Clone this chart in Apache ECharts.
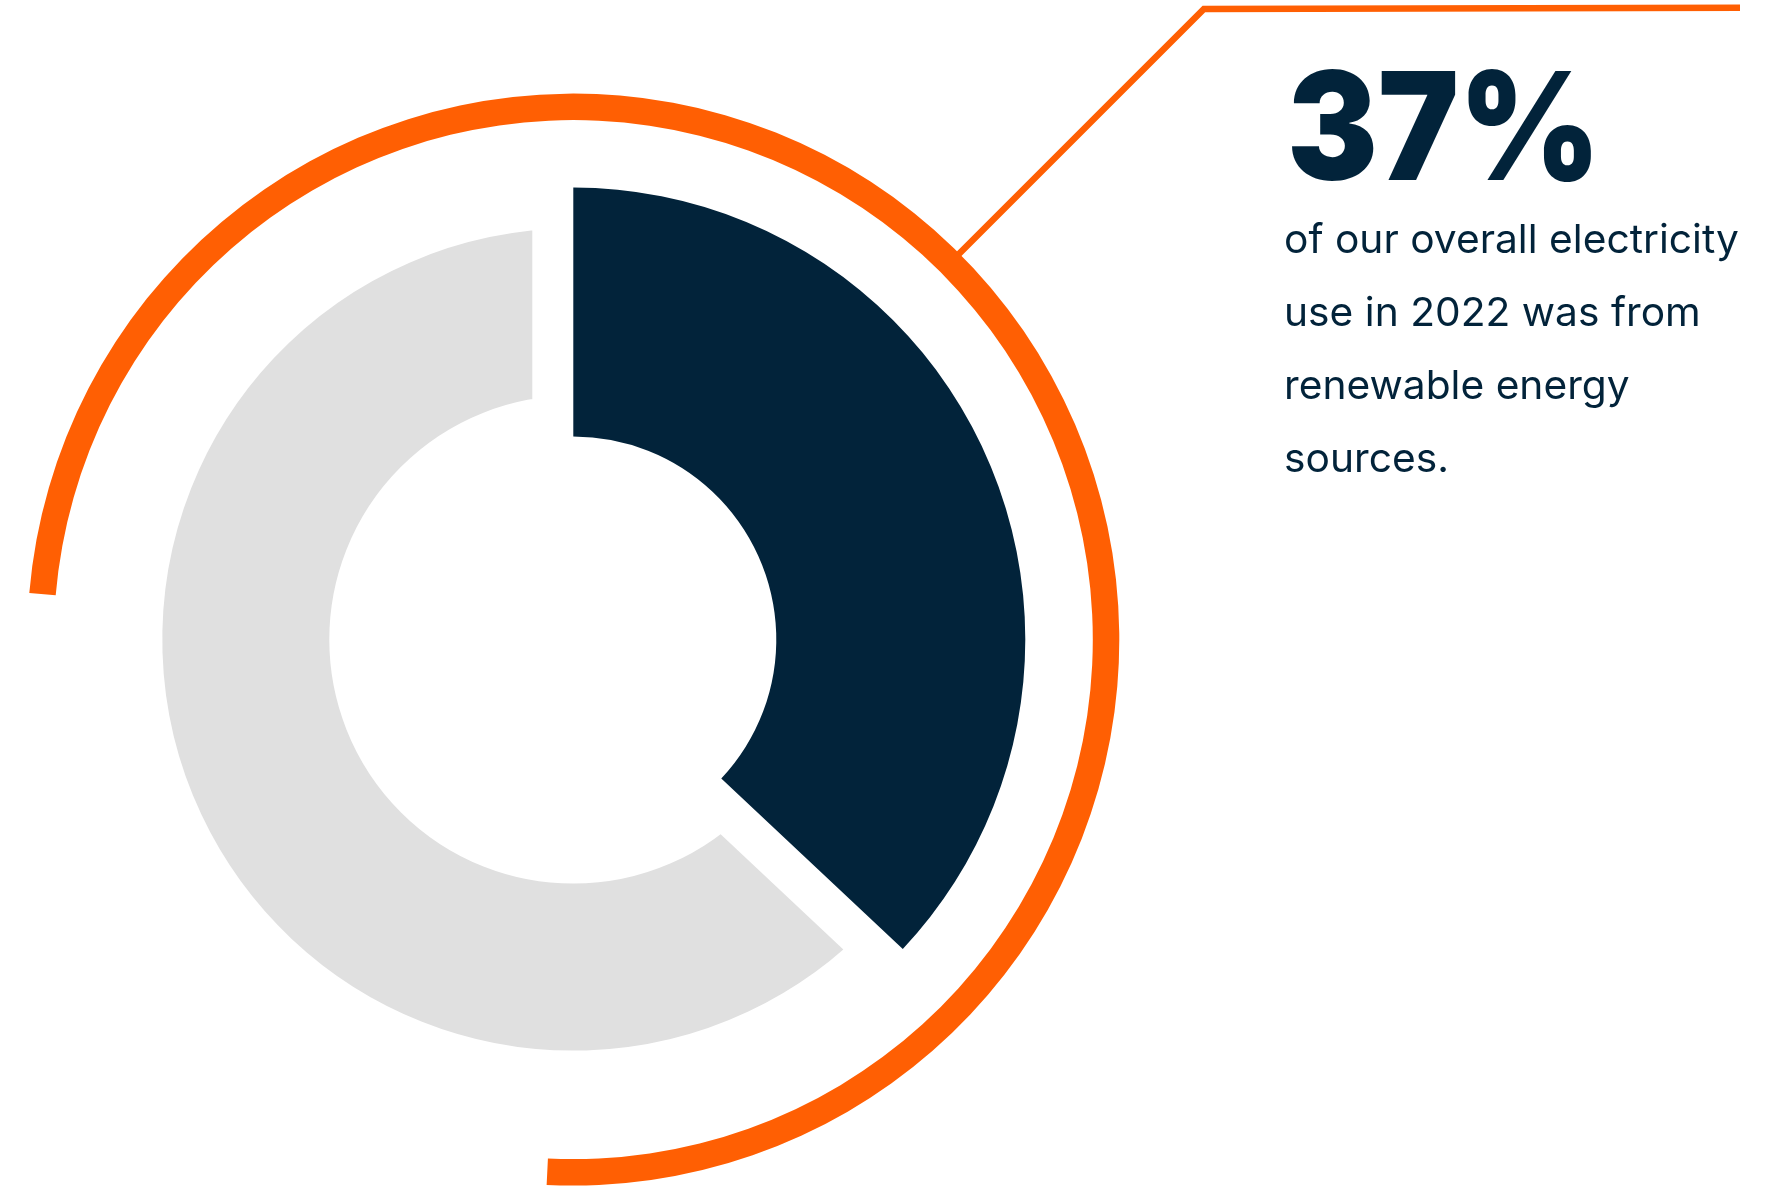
<!DOCTYPE html>
<html>
<head>
<meta charset="utf-8">
<script src="https://cdn.jsdelivr.net/npm/echarts@6/dist/echarts.min.js"></script>
<style>
html,body{margin:0;padding:0;background:#ffffff;}
#chart{width:1766px;height:1196px;}
</style>
</head>
<body>
<div id="chart"></div>
<script>
// ---- data ----
const categories = ['Renewable energy', 'Other sources'];
const shareValues = [37, 63];
const headline = '37%';
const bodyLines = ['of our overall electricity', 'use in 2022 was from', 'renewable energy', 'sources.'];
// decorative orange ring: sweep (degrees) and remaining gap
const ringValues = [267.9, 92.1];

// ---- style / layout ----
const NAVY = '#02233A';
const GREY = '#E0E0E0';
const ORANGE = '#FF5F03';
const CX = 573.3, CY = 639.6;
const R_IN = 203, R_OUT = 452;
const GAP = 41;
const RING_IN = 519.5, RING_OUT = 546;
const RING_START = 175.1;

const chart = echarts.init(document.getElementById('chart'), null, {renderer: 'canvas'});

const commonPie = {
  type: 'pie',
  center: [CX, CY],
  silent: true,
  clockwise: true,
  startAngle: 90,
  label: {show: false},
  labelLine: {show: false},
  emphasis: {disabled: true},
  animation: false
};

// leader line from ring at 45 degrees
const a = Math.PI / 4;
const p0 = [CX + RING_OUT * Math.sin(a) - 1, CY - RING_OUT * Math.cos(a) + 1];
const cornerY = 9;
const t = (CY - cornerY) / Math.cos(a);
const p1 = [CX + t * Math.sin(a), cornerY];
const p2 = [1740, 7.7];

chart.setOption({
  backgroundColor: '#ffffff',
  series: [
    Object.assign({}, commonPie, {
      name: 'ring',
      z: 1,
      radius: [RING_IN, RING_OUT],
      startAngle: RING_START,
      data: [
        {value: ringValues[0], itemStyle: {color: ORANGE}},
        {value: ringValues[1], itemStyle: {color: 'rgba(0,0,0,0)'}}
      ]
    }),
    Object.assign({}, commonPie, {
      name: 'others',
      z: 2,
      radius: [R_IN, R_OUT],
      data: [
        {name: categories[0], value: shareValues[0], itemStyle: {color: 'rgba(0,0,0,0)', borderWidth: 0}},
        {name: categories[1], value: shareValues[1], itemStyle: {color: GREY, borderColor: '#ffffff', borderWidth: GAP * 2, borderJoin: 'miter'}}
      ]
    }),
    Object.assign({}, commonPie, {
      name: 'renewable',
      z: 3,
      radius: [R_IN, R_OUT],
      data: [
        {name: categories[0], value: shareValues[0], itemStyle: {color: NAVY, borderWidth: 0}},
        {name: categories[1], value: shareValues[1], itemStyle: {color: 'rgba(0,0,0,0)', borderWidth: 0}}
      ]
    })
  ],
  graphic: [
    {
      type: 'polyline',
      z: 10,
      silent: true,
      shape: {points: [p0, p1, p2]},
      style: {stroke: ORANGE, lineWidth: 6.5, fill: null, lineJoin: 'miter'}
    },
    {
      type: 'text',
      z: 10,
      silent: true,
      x: 1287,
      y: 135,
      scaleX: 0.906,
      style: {
        text: headline,
        fill: NAVY,
        font: '900 150px Inter',
        verticalAlign: 'middle',
        align: 'left'
      }
    },
    {
      type: 'text',
      z: 10,
      silent: true,
      x: 1284,
      y: 204,
      scaleX: 1.018,
      style: {
        text: bodyLines.join('\n'),
        fill: NAVY,
        font: '400 40px Inter',
        lineHeight: 73,
        verticalAlign: 'top',
        align: 'left'
      }
    }
  ]
});
</script>
</body>
</html>
